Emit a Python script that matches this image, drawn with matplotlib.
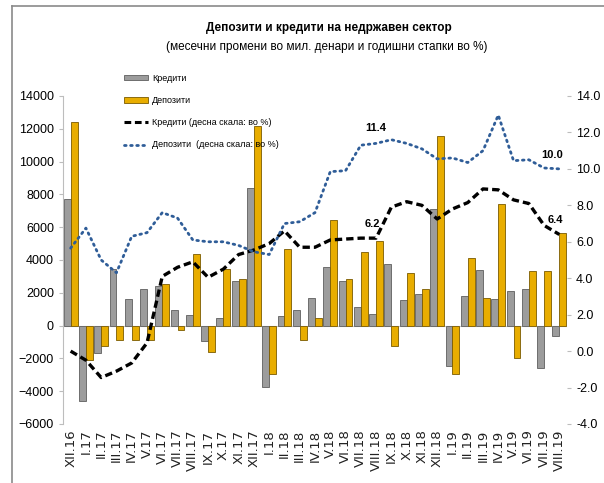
import matplotlib
matplotlib.use('Agg')
import matplotlib.pyplot as plt
from matplotlib.lines import Line2D
from matplotlib.patches import Patch
import numpy as np

# Месеци
meseci = ['XII.16', 'I.17', 'II.17', 'III.17', 'IV.17', 'V.17', 'VI.17', 'VII.17', 'VIII.17',
          'IX.17', 'X.17', 'XI.17', 'XII.17', 'I.18', 'II.18', 'III.18', 'IV.18', 'V.18',
          'VI.18', 'VII.18', 'VIII.18', 'IX.18', 'X.18', 'XI.18', 'XII.18', 'I.19', 'II.19',
          'III.19', 'IV.19', 'V.19', 'VI.19', 'VII.19', 'VIII.19']

# месечни промени, мил. денари
krediti = [7700, -4600, -1650, 3450, 1630, 2240, 2400, 930, 670, -960, 450, 2700, 8400,
           -3760, 600, 980, 1680, 3600, 2700, 1120, 710, 3740, 1550, 1900, 7130, -2440,
           1790, 3390, 1630, 2100, 2260, -2600, -650]
depoziti = [12400, -2100, -1220, -850, -900, -850, 2560, -240, 4370, -1630, 3450, 2870,
            12200, -2930, 4700, -900, 450, 6460, 2840, 4490, 5140, -1260, 3200, 2230,
            11590, -2950, 4130, 1700, 7400, -1970, 3350, 3330, 5650]

# годишни стапки, %
krediti_pct = [0.0, -0.5, -1.45, -1.1, -0.65, 0.45, 4.1, 4.6, 4.9, 4.05, 4.5, 5.3, 5.55,
               5.9, 6.6, 5.7, 5.7, 6.1, 6.15, 6.2, 6.2, 7.9, 8.2, 8.0, 7.25, 7.8, 8.15,
               8.9, 8.85, 8.3, 8.1, 6.9, 6.4]
depoziti_pct = [5.65, 6.75, 5.0, 4.3, 6.3, 6.5, 7.6, 7.3, 6.1, 6.0, 6.0, 5.8, 5.45, 5.3,
                7.0, 7.1, 7.6, 9.85, 9.9, 11.3, 11.4, 11.6, 11.4, 11.1, 10.55, 10.6,
                10.35, 11.0, 12.95, 10.45, 10.5, 10.05, 10.0]

tesen = ['Liberation Sans', 'DejaVu Sans']
siva = '#9c9c9c'
zolta = '#e8ad00'
plava = '#2f5d98'

fig = plt.figure(figsize=(6.04, 4.83), dpi=100)
ax = fig.add_axes([63 / 604, 1 - 424 / 483, 504 / 604, 328 / 483])
ax2 = ax.twinx()

x = np.arange(len(meseci))
w = 0.45
ax.bar(x - w / 2, krediti, w, color=siva, edgecolor='#5f5f5f', linewidth=0.6, zorder=2)
ax.bar(x + w / 2, depoziti, w, color=zolta, edgecolor='#7a5a00', linewidth=0.6, zorder=2)
ax.axhline(0, color='#c8c8c8', lw=0.8, zorder=1)

ax2.plot(x, krediti_pct, color='black', lw=2.4, ls=(0, (2.2, 1.2)), zorder=3)
ax2.plot(x, depoziti_pct, color=plava, lw=2.0, ls=(0, (0.6, 1.6)),
         dash_capstyle='round', zorder=3)

ax.set_xlim(-0.5, len(meseci) - 0.5)
ax.set_ylim(-6000, 14000)
ax.set_yticks(np.arange(-6000, 14001, 2000))
ax2.set_ylim(-4, 14)
ax2.set_yticks(np.arange(-4, 14.01, 2))
ax2.set_yticklabels(['%.1f' % v for v in np.arange(-4, 14.01, 2)])

ax.set_xticks(x)
ax.set_xticklabels(meseci, rotation=90, fontsize=9.5, family='DejaVu Sans', color='#222222')
ax.tick_params(axis='x', length=0, pad=4)
ax.tick_params(axis='y', length=3, color='#bdbdbd', labelsize=9)
ax2.tick_params(axis='y', length=3, color='#bdbdbd', labelsize=9)
for lab in ax.get_yticklabels() + ax2.get_yticklabels():
    lab.set_family(tesen)

for s in ['top', 'right', 'bottom']:
    ax.spines[s].set_visible(False)
ax.spines['left'].set_color('#bdbdbd')
for s in ['top', 'right', 'bottom', 'left']:
    ax2.spines[s].set_visible(False)

# ознаки
ax2.annotate('11.4', (20, depoziti_pct[20]), xytext=(0, 9), textcoords='offset points',
             ha='center', fontsize=8, fontweight='bold', family=tesen)
ax2.annotate('6.2', (20, krediti_pct[20]), xytext=(-3, 8), textcoords='offset points',
             ha='center', fontsize=8, fontweight='bold', family=tesen)
ax2.annotate('10.0', (32, depoziti_pct[32]), xytext=(-5, 8), textcoords='offset points',
             ha='center', fontsize=8, fontweight='bold', family=tesen)
ax2.annotate('6.4', (32, krediti_pct[32]), xytext=(-3, 8), textcoords='offset points',
             ha='center', fontsize=8, fontweight='bold', family=tesen)

# легенда
rakii = [Patch(facecolor=siva, edgecolor='#5f5f5f', linewidth=0.6),
         Patch(facecolor=zolta, edgecolor='#7a5a00', linewidth=0.6),
         Line2D([], [], color='black', lw=2.2, ls=(0, (2.2, 1.2))),
         Line2D([], [], color=plava, lw=2.0, ls=(0, (0.6, 1.6)), dash_capstyle='round')]
iminja = ['Кредити', 'Депозити', 'Кредити (десна скала: во %)', 'Депозити  (десна скала: во %)']
ax2.legend(rakii, iminja, loc='upper left', bbox_to_anchor=(116 / 604, 1 - 66 / 483),
           bbox_transform=fig.transFigure, frameon=False, prop={'family': tesen, 'size': 6.5},
           handlelength=2.6, handleheight=0.5, labelspacing=1.45, handletextpad=0.5)

# наслов
fig.text(329 / 604, 1 - 28 / 483, 'Депозити и кредити на недржавен сектор', ha='center',
         va='center', fontsize=8.5, fontweight='bold', family=tesen)
fig.text(327 / 604, 1 - 47 / 483, '(месечни промени во мил. денари и годишни стапки во %)',
         ha='center', va='center', fontsize=8.5, family=tesen)

# рамка
fig.add_artist(Line2D([12 / 604, 1], [1 - 5.5 / 483, 1 - 5.5 / 483], color='#8a8a8a', lw=1.2))
fig.add_artist(Line2D([12 / 604, 12 / 604], [1 - 5.5 / 483, 0], color='#8a8a8a', lw=1.2))

fig.savefig('out.png', dpi=100)
